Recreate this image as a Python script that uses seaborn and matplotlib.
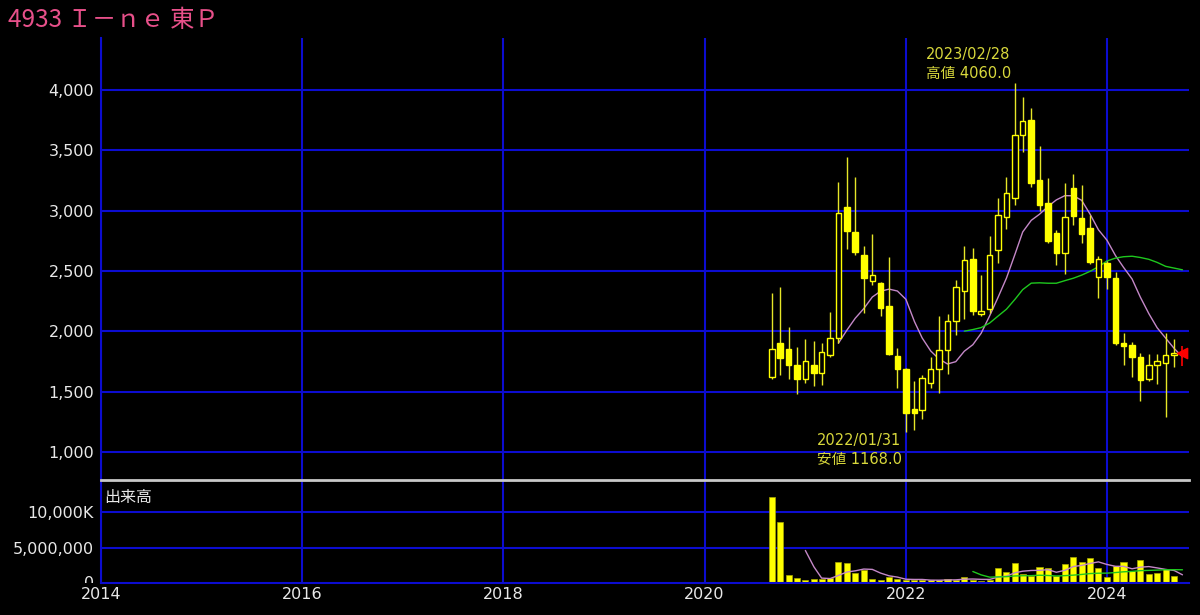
import numpy as np
import pandas as pd
import matplotlib
matplotlib.use("Agg")
import matplotlib.pyplot as plt
import matplotlib.dates as mdates
from matplotlib.transforms import Bbox
import seaborn as sns

# monthly candles (2020/09 .. 2024/10)
months = pd.date_range("2020-09-01", periods=50, freq="MS")
open_ = [1624, 1901, 1851, 1721, 1602, 1721, 1657, 1804, 1942, 3034,
         2827, 2633, 2420, 2404, 2210, 1796, 1686, 1360, 1348, 1575,
         1685, 1846, 2089, 2337, 2597, 2145, 2183, 2675, 2951, 3103,
         3628, 3752, 3255, 3062, 2813, 2652, 3186, 2937, 2854, 2453,
         2564, 2440, 1905, 1887, 1785, 1605, 1721, 1735, 1804, 1823]
high = [2321, 2371, 2039, 1873, 1934, 1923, 1901, 2163, 3236, 3448,
        3283, 2708, 2805, 2412, 2619, 1860, 1700, 1590, 1640, 1790,
        2127, 2140, 2426, 2708, 2689, 2467, 2791, 3103, 3277, 4060,
        3946, 3849, 3537, 3269, 2840, 3227, 3305, 3213, 2965, 2625,
        2580, 2490, 1989, 1915, 1823, 1815, 1815, 1989, 1934, 1878]
low = [1602, 1638, 1602, 1481, 1569, 1547, 1555, 1790, 1901, 2683,
       2633, 2155, 2384, 2130, 1800, 1528, 1168, 1185, 1270, 1528,
       1492, 1647, 1970, 2100, 2136, 2124, 2149, 2564, 2850, 3050,
       3490, 3200, 3000, 2730, 2550, 2476, 2880, 2730, 2560, 2274,
       2349, 1890, 1721, 1624, 1425, 1585, 1564, 1287, 1707, 1712]
close = [1851, 1777, 1721, 1602, 1757, 1657, 1826, 1942, 2984, 2832,
         2655, 2440, 2467, 2191, 1812, 1686, 1320, 1325, 1611, 1685,
         1846, 2089, 2365, 2592, 2172, 2165, 2633, 2965, 3145, 3628,
         3747, 3233, 3048, 2752, 2652, 2951, 2956, 2807, 2578, 2597,
         2453, 1901, 1880, 1785, 1597, 1721, 1757, 1804, 1823, 1823]
# volume in millions of shares
volume_m = [12.2, 8.6, 1.1, 0.77, 0.38, 0.62, 0.62, 0.77, 3.0, 2.8,
            1.43, 1.9, 0.53, 0.38, 0.86, 0.53, 0.38, 0.38, 0.38, 0.38,
            0.48, 0.53, 0.48, 0.86, 0.48, 0.25, 0.48, 2.1, 1.6, 2.85,
            1.34, 1.0, 2.2, 2.08, 1.0, 2.7, 3.7, 3.0, 3.5, 2.08,
            0.86, 2.4, 3.0, 1.75, 3.2, 1.3, 1.46, 1.93, 0.98, 0.14]

price_ticks = [1000, 1500, 2000, 2500, 3000, 3500, 4000]
vol_ticks = [5_000_000, 10_000_000]
vol_tick_labels = ["5,000,000", "10,000K"]
year_ticks = [2014, 2016, 2018, 2020, 2022, 2024]
title = "4933 Ｉ－ｎｅ 東Ｐ"

df = pd.DataFrame({"date": months, "open": open_, "high": high, "low": low,
                   "close": close, "volume": np.array(volume_m) * 1e6})
df["ma_short"] = df["close"].rolling(9).mean()
df["ma_long"] = df["close"].rolling(24).mean()
df["vma_short"] = df["volume"].rolling(5).mean()
df["vma_long"] = df["volume"].rolling(25).mean()

sns.set_theme(style="dark", rc={"axes.facecolor": "black", "figure.facecolor": "black"})
plt.rcParams["font.family"] = ["DejaVu Sans", "Noto Sans CJK JP"]

BLUE = "#0c0cd0"
YEL = "#ffff00"
WICK = "#e6e628"
TXT = "#e8e8e8"

fig = plt.figure(figsize=(12, 6.15), dpi=100)
fig.patch.set_facecolor("black")
ax = fig.add_axes([0.0842, 0.2195, 0.9067, 0.7187])
axv = fig.add_axes([0.0842, 0.052, 0.9067, 0.1675], sharex=ax)

body_w = 20  # days
hist = df.iloc[:-1]
last = df.iloc[-1]
up = hist[hist["close"] >= hist["open"]]
dn = hist[hist["close"] < hist["open"]]

# moving averages behind the candles
sns.lineplot(data=df, x="date", y="ma_short", ax=ax, color="#c488c8", lw=1, zorder=1.5)
sns.lineplot(data=df, x="date", y="ma_long", ax=ax, color="#1ec81e", lw=1, zorder=1.5)

ax.vlines(hist["date"], hist["low"], hist["high"], color=WICK, lw=1, zorder=2)
ax.bar(up["date"], up["close"] - up["open"], bottom=up["open"], width=body_w,
       color="black", edgecolor=YEL, lw=1, zorder=3)
ax.bar(dn["date"], dn["close"] - dn["open"], bottom=dn["open"], width=body_w,
       color=YEL, edgecolor=YEL, lw=1, zorder=3)

# current month in red
ax.vlines(last["date"], last["low"], last["high"], color="red", lw=1.2, zorder=4)
ax.scatter([last["date"]], [last["close"]], marker="<", color="red", s=55, zorder=5, clip_on=False)

# high / low labels
hi = df.loc[df["high"].idxmax()]
lo = df.loc[df["low"].idxmin()]
hi_day = (hi["date"] + pd.offsets.MonthEnd(0)).strftime("%Y/%m/%d")
lo_day = (lo["date"] + pd.offsets.MonthEnd(0)).strftime("%Y/%m/%d")
ax.annotate(f"{hi_day}\n高値 {hi['high']:.1f}", xy=(hi["date"], hi["high"]),
            xytext=(-3, 1), textcoords="offset points", ha="right", va="bottom",
            multialignment="left", color="#d8d83c", fontsize=10.5, linespacing=1.35)
ax.annotate(f"{lo_day}\n安値 {lo['low']:.1f}", xy=(lo["date"], lo["low"]),
            xytext=(-3, -1), textcoords="offset points", ha="right", va="top",
            multialignment="left", color="#d8d83c", fontsize=10.5, linespacing=1.35)

ax.set_ylim(768, 4431)
ax.set_yticks(price_ticks)
ax.set_yticklabels([f"{v:,}" for v in price_ticks])
ax.set_xlim(pd.Timestamp("2014-01-01"), pd.Timestamp("2024-10-25"))
ax.set_xticks([pd.Timestamp(f"{y}-01-01") for y in year_ticks])
ax.grid(True, color=BLUE, lw=1.5)
ax.tick_params(axis="y", colors=TXT, labelsize=11.5, length=0, pad=5)
ax.tick_params(axis="x", labelbottom=False, length=0)
ax.set_xlabel("")
ax.set_ylabel("")
for s in ["top", "right", "bottom"]:
    ax.spines[s].set_visible(False)
ax.spines["left"].set_color(BLUE)
ax.spines["left"].set_linewidth(1.5)

# volume panel
sns.lineplot(data=df, x="date", y="vma_short", ax=axv, color="#c488c8", lw=1, zorder=3)
sns.lineplot(data=df, x="date", y="vma_long", ax=axv, color="#1ec81e", lw=1, zorder=3)
axv.bar(df["date"], df["volume"], width=22, color=YEL, edgecolor="#a8a800", lw=0.5, zorder=2)
axv.set_ylim(0, 14.6e6)
axv.set_yticks(vol_ticks)
axv.set_yticklabels(vol_tick_labels)
axv.grid(True, color=BLUE, lw=1.5)
axv.xaxis.set_major_formatter(mdates.DateFormatter("%Y"))
axv.tick_params(axis="y", colors=TXT, labelsize=11.5, length=0, pad=5)
axv.tick_params(axis="x", colors=TXT, labelsize=11.5, length=0, pad=3)
axv.set_xlabel("")
axv.set_ylabel("")
axv.spines["right"].set_visible(False)
axv.spines["left"].set_color(BLUE)
axv.spines["bottom"].set_color(BLUE)
axv.spines["left"].set_linewidth(1.5)
axv.spines["bottom"].set_linewidth(1.5)
axv.spines["top"].set_color("#c8c8c8")
axv.spines["top"].set_linewidth(2)
axv.text(0.003, 0.83, "出来高", transform=axv.transAxes, color=TXT, fontsize=11.5,
         va="center", ha="left", family=["Noto Sans CJK JP", "DejaVu Sans"])

# the "0" of the volume scale is cut off at the panel's bottom edge
zero = axv.annotate("0", xy=(0, 0), xycoords=("axes fraction", "data"), xytext=(-5, 0),
                    textcoords="offset points", ha="right", va="center",
                    color=TXT, fontsize=11.5, annotation_clip=False)
zero.set_clip_box(Bbox.from_extents(0, 32, 101, 200))
zero.set_clip_on(True)

fig.text(8 / 1200, 1 - 20 / 615, title, color="#e8508a", fontsize=17.5, va="center",
         ha="left", family=["Noto Sans CJK JP", "DejaVu Sans"])

fig.savefig("out.png", dpi=100, facecolor="black")
